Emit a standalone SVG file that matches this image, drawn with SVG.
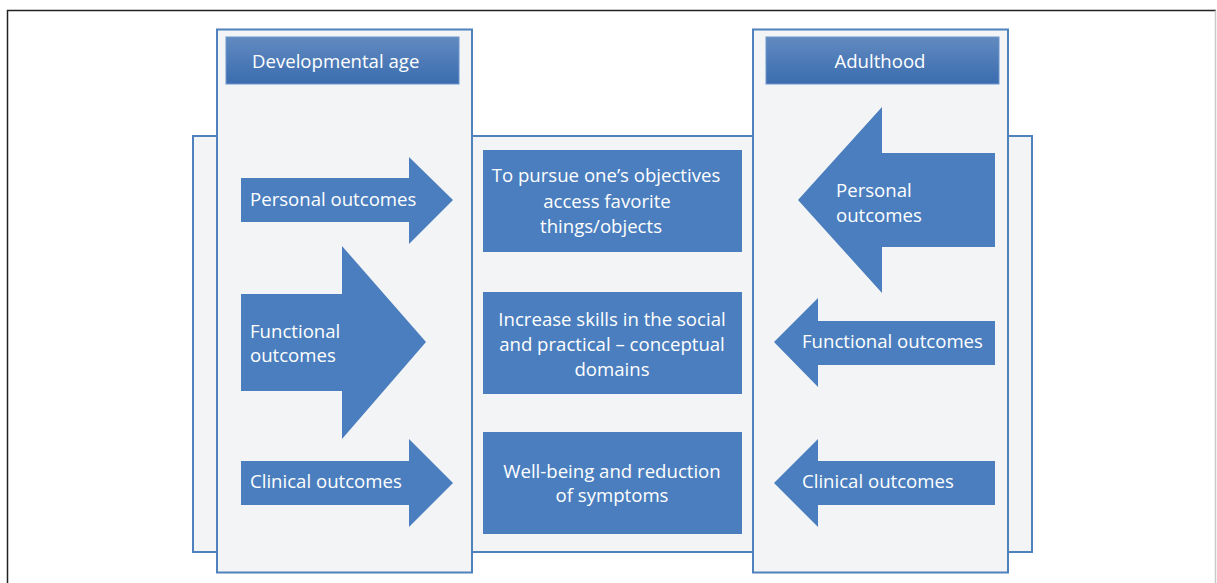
<svg xmlns="http://www.w3.org/2000/svg" width="1217" height="583" viewBox="0 0 1217 583">
<defs>
<linearGradient id="hdr" x1="0" y1="0" x2="0" y2="1">
<stop offset="0" stop-color="#628AC0"/>
<stop offset="1" stop-color="#3A6CAF"/>
</linearGradient>
</defs>
<style>
.panel{fill:#F3F4F6;stroke:#4F81BD;stroke-width:2}
.hdr{fill:url(#hdr);stroke:#6C95CC;stroke-width:1}
.sh{fill:#4A7EBE}
.t{font-family:"Open Sans","Noto Sans",sans-serif;font-size:18.6px;fill:#FFFFFF}
.c{text-anchor:middle}
</style>
<rect width="1217" height="583" fill="#FFFFFF"/>
<path d="M7.5 583 V10.5 H1216" fill="none" stroke="#222" stroke-width="1.5"/>
<path d="M1215.5 10.5 V583" fill="none" stroke="#C8C8C8" stroke-width="1.5"/>

<g id="backdrop">
<rect class="panel" x="193" y="136" width="839" height="416"/>
</g>

<g id="developmental-age">
<rect class="panel" x="217" y="29.5" width="255" height="543"/>
<rect class="hdr" x="226" y="37" width="233" height="47"/>
<text class="t" x="252" y="68">Developmental age</text>
</g>

<g id="adulthood">
<rect class="panel" x="753" y="29.5" width="255" height="543"/>
<rect class="hdr" x="766" y="37" width="233" height="47"/>
<text class="t c" x="880" y="68">Adulthood</text>
</g>

<g id="left-personal">
<polygon class="sh" points="241,178 409,178 409,157 453,200 409,244 409,222 241,222"/>
<text class="t" x="250" y="206">Personal outcomes</text>
</g>
<g id="left-functional">
<polygon class="sh" points="241,294 342,294 342,246 426,342 342,439 342,391 241,391"/>
<text class="t" x="250" y="338">Functional</text>
<text class="t" x="250" y="362">outcomes</text>
</g>
<g id="left-clinical">
<polygon class="sh" points="241,461 409,461 409,439 453,483 409,527 409,505 241,505"/>
<text class="t" x="250" y="488">Clinical outcomes</text>
</g>

<g id="goal-personal">
<rect class="sh" x="483" y="150" width="259" height="102"/>
<text class="t c" x="606" y="182">To pursue one’s objectives</text>
<text class="t c" x="607" y="208">access favorite</text>
<text class="t c" x="601" y="233">things/objects</text>
</g>
<g id="goal-functional">
<rect class="sh" x="483" y="292" width="259" height="102"/>
<text class="t c" x="612" y="326">Increase skills in the social</text>
<text class="t c" x="612" y="351">and practical – conceptual</text>
<text class="t c" x="612" y="376">domains</text>
</g>
<g id="goal-clinical">
<rect class="sh" x="483" y="432" width="259" height="102"/>
<text class="t c" x="612" y="478">Well-being and reduction</text>
<text class="t c" x="612" y="502">of symptoms</text>
</g>

<g id="right-personal">
<polygon class="sh" points="995,153 882,153 882,107 798,200 882,293 882,247 995,247"/>
<text class="t" x="836" y="197">Personal</text>
<text class="t" x="836" y="222">outcomes</text>
</g>
<g id="right-functional">
<polygon class="sh" points="995,321 818,321 818,298 774,342 818,387 818,365 995,365"/>
<text class="t" x="802" y="348">Functional outcomes</text>
</g>
<g id="right-clinical">
<polygon class="sh" points="995,461 818,461 818,439 774,483 818,527 818,505 995,505"/>
<text class="t" x="802" y="488">Clinical outcomes</text>
</g>

<g id="connectors"></g>
</svg>
